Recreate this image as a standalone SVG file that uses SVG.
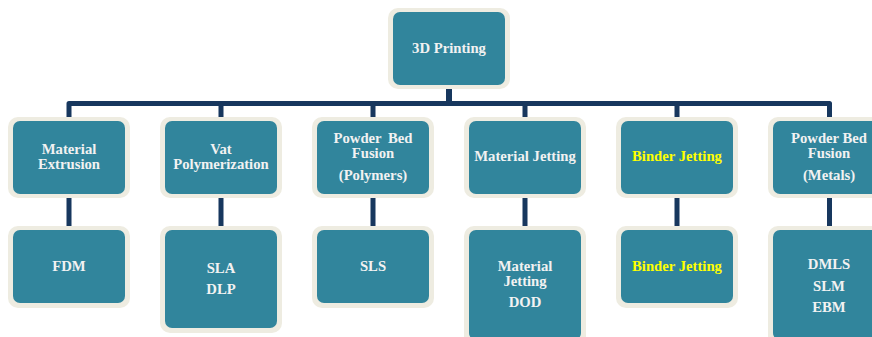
<svg xmlns="http://www.w3.org/2000/svg" width="872" height="337" viewBox="0 0 872 337">
<style>
.fr{fill:#EEECE1}
.bx{fill:#31859C}
.t{font-family:"Liberation Serif","Times New Roman",serif;font-weight:bold;font-size:14.7px;fill:#F2F2F2;text-anchor:middle}
.y{fill:#FFFF00}
.c{fill:none;stroke:#17375E;stroke-width:5;stroke-linejoin:round}
</style>
<g id="connectors">
<path class="c" d="M69,118 V103.5 H829.5 V118"/>
<path class="c" style="stroke-width:6" d="M449,88 V103"/>
<path class="c" d="M221,103 V118 M373,103 V118 M525,103 V118 M677,103 V118"/>
<path class="c" d="M69,197 V227 M221,197 V227 M373,197 V227 M525,197 V227 M677,197 V227 M829.5,197 V227"/>
</g>
<g id="n-3dprinting">
<rect class="fr" x="388" y="8" width="122" height="81" rx="10"/>
<rect class="bx" x="393" y="12" width="112" height="73" rx="7"/>
<text class="t" x="449" y="53">3D Printing</text>
</g>
<g id="n-matext">
<rect class="fr" x="8" y="117" width="122" height="81" rx="10"/>
<rect class="bx" x="13" y="121" width="112" height="73" rx="7"/>
<text class="t" x="69" y="154">Material</text>
<text class="t" x="69" y="169">Extrusion</text>
</g>
<g id="n-vat">
<rect class="fr" x="160" y="117" width="122" height="81" rx="10"/>
<rect class="bx" x="165" y="121" width="112" height="73" rx="7"/>
<text class="t" x="221" y="154">Vat</text>
<text class="t" x="221" y="169">Polymerization</text>
</g>
<g id="n-pbfp">
<rect class="fr" x="312" y="117" width="122" height="81" rx="10"/>
<rect class="bx" x="317" y="121" width="112" height="73" rx="7"/>
<text class="t" x="373" y="143" word-spacing="3">Powder Bed</text>
<text class="t" x="373" y="158">Fusion</text>
<text class="t" x="373" y="180">(Polymers)</text>
</g>
<g id="n-matjet">
<rect class="fr" x="464" y="117" width="122" height="81" rx="10"/>
<rect class="bx" x="469" y="121" width="112" height="73" rx="7"/>
<text class="t" x="525" y="161">Material Jetting</text>
</g>
<g id="n-binder">
<rect class="fr" x="616" y="117" width="122" height="81" rx="10"/>
<rect class="bx" x="621" y="121" width="112" height="73" rx="7"/>
<text class="t y" x="677" y="161">Binder Jetting</text>
</g>
<g id="n-pbfm">
<rect class="fr" x="768" y="117" width="122" height="81" rx="10"/>
<rect class="bx" x="773" y="121" width="112" height="73" rx="7"/>
<text class="t" x="829" y="143">Powder Bed</text>
<text class="t" x="829" y="158">Fusion</text>
<text class="t" x="829" y="180">(Metals)</text>
</g>
<g id="n-fdm">
<rect class="fr" x="8" y="226" width="122" height="82" rx="10"/>
<rect class="bx" x="13" y="230" width="112" height="73" rx="7"/>
<text class="t" x="69" y="271">FDM</text>
</g>
<g id="n-sla">
<rect class="fr" x="160" y="226" width="122" height="107" rx="10"/>
<rect class="bx" x="165" y="230" width="112" height="98" rx="7"/>
<text class="t" x="221" y="273">SLA</text>
<text class="t" x="221" y="294">DLP</text>
</g>
<g id="n-sls">
<rect class="fr" x="312" y="226" width="122" height="82" rx="10"/>
<rect class="bx" x="317" y="230" width="112" height="73" rx="7"/>
<text class="t" x="373" y="271">SLS</text>
</g>
<g id="n-dod">
<rect class="fr" x="464" y="226" width="122" height="120" rx="10"/>
<rect class="bx" x="469" y="230" width="112" height="110" rx="7"/>
<text class="t" x="525" y="271">Material</text>
<text class="t" x="525" y="286">Jetting</text>
<text class="t" x="525" y="307">DOD</text>
</g>
<g id="n-binder2">
<rect class="fr" x="616" y="226" width="122" height="82" rx="10"/>
<rect class="bx" x="621" y="230" width="112" height="73" rx="7"/>
<text class="t y" x="677" y="271">Binder Jetting</text>
</g>
<g id="n-dmls">
<rect class="fr" x="768" y="226" width="122" height="120" rx="10"/>
<rect class="bx" x="773" y="230" width="112" height="110" rx="7"/>
<text class="t" x="829" y="269">DMLS</text>
<text class="t" x="829" y="291">SLM</text>
<text class="t" x="829" y="312">EBM</text>
</g>
</svg>
